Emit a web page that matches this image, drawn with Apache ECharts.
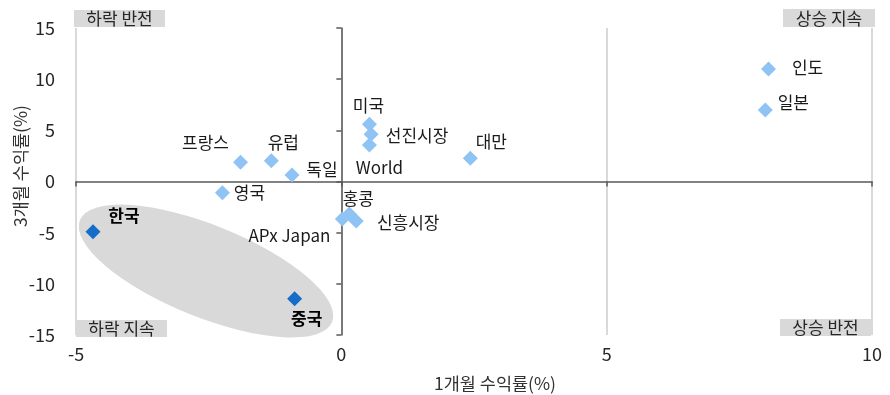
<!DOCTYPE html>
<html>
<head>
<meta charset="utf-8">
<script src="https://cdn.jsdelivr.net/npm/echarts@6/dist/echarts.min.js"></script>
<style>
  html, body { margin: 0; padding: 0; background: #fff; }
  #chart { width: 890px; height: 395px; }
</style>
</head>
<body>
<div id="chart"></div>
<script>
// Market returns: 1-month (x) vs 3-month (y), in %
const marketNames = ['인도', '일본', '미국', '선진시장', 'World', '대만', '프랑스', '유럽', '독일', '영국', '홍콩', 'APx Japan', '신흥시장'];
const oneMonth    = [8.05, 7.99, 0.53, 0.56, 0.53, 2.43, -1.90, -1.32, -0.93, -2.24, 0.15, 0.02, 0.28];
const threeMonth  = [11.0, 6.99, 5.59, 4.61, 3.57, 2.27, 1.88, 2.03, 0.64, -1.09, -3.18, -3.67, -3.86];

// Highlighted markets
const focusNames  = ['한국', '중국'];
const focusOne    = [-4.68, -0.88];
const focusThree  = [-4.90, -11.45];

// Axis ticks
const xTicks = { min: -5, max: 10, step: 5 };
const yTicks = { min: -15, max: 15, step: 5 };

// Quadrant captions
const quadrantTexts = ['하락 반전', '상승 지속', '하락 지속', '상승 반전'];

// Label placement (pixel offsets from each marker's centre)
const labelOffsets = {
  '인도': [39, -1], '일본': [28, -7], '미국': [-1, -19], '선진시장': [46, 1],
  'World': [10, 23], '대만': [21, -17], '프랑스': [-35, -20], '유럽': [12, -18],
  '독일': [30, -5], '영국': [27, 0], '홍콩': [9, -15], 'APx Japan': [-53, 16],
  '신흥시장': [52, 2], '한국': [31, -16], '중국': [12, 20]
};

// Shaded ellipse around the highlighted markets (centre in data units)
const ellipseCenter = [-2.55, -8.75];
const ellipseShape = { rx: 136, ry: 46, angleDeg: 22 };

const FONT = '"Noto Sans CJK KR", "Noto Sans", sans-serif';
const LIGHT = '#8fc3f4';
const DARK = '#156cc9';

function points(names, xs, ys) {
  return names.map((n, i) => ({
    name: n,
    value: [xs[i], ys[i]],
    label: { offset: labelOffsets[n] || [0, 0] }
  }));
}

const chart = echarts.init(document.getElementById('chart'), null, { renderer: 'canvas' });

const valueAxisBase = (t) => ({ type: 'value', min: t.min, max: t.max, interval: t.step });

function quadrantLabel(text, left, top, w, h) {
  return {
    type: 'group', x: left, y: top, z: 10,
    children: [
      { type: 'rect', shape: { x: 0, y: 0, width: w, height: h }, style: { fill: '#d9d9d9' } },
      { type: 'text', x: w / 2, y: h / 2 + 0.5,
        style: { text: text, fill: '#262626', font: '17px ' + FONT, align: 'center', verticalAlign: 'middle' } }
    ]
  };
}

chart.setOption({
  animation: false,
  grid: { left: 76, right: 18, top: 28, bottom: 60 },
  xAxis: [
    Object.assign(valueAxisBase(xTicks), {
      position: 'bottom',
      axisLine: { show: false, onZero: false },
      axisTick: { show: false },
      axisLabel: { fontSize: 18, color: '#262626', fontFamily: FONT, margin: 10 },
      splitLine: { show: true, lineStyle: { color: '#d9d9d9', width: 2 } }
    }),
    Object.assign(valueAxisBase(xTicks), {
      position: 'bottom',
      axisLine: { show: true, onZero: true, lineStyle: { color: '#595959', width: 1.5 } },
      axisTick: { show: true, length: 5, lineStyle: { color: '#595959', width: 1.5 } },
      axisLabel: { show: false },
      splitLine: { show: false }
    })
  ],
  yAxis: [
    Object.assign(valueAxisBase(yTicks), {
      position: 'left',
      axisLine: { show: false, onZero: false },
      axisTick: { show: false },
      axisLabel: { fontSize: 18, color: '#262626', fontFamily: FONT, margin: 21 },
      splitLine: { show: false }
    }),
    Object.assign(valueAxisBase(yTicks), {
      position: 'left',
      axisLine: { show: true, onZero: true, lineStyle: { color: '#595959', width: 1.5 } },
      axisTick: { show: true, length: 5, lineStyle: { color: '#595959', width: 1.5 } },
      axisLabel: { show: false },
      splitLine: { show: false }
    })
  ],
  graphic: [
    { type: 'text', x: 495, y: 383, z: 10,
      style: { text: '1개월 수익률(%)', fill: '#333', font: '17.5px ' + FONT, align: 'center', verticalAlign: 'middle' } },
    { type: 'text', x: 20, y: 166, rotation: Math.PI / 2, z: 10,
      style: { text: '3개월 수익률(%)', fill: '#333', font: '17.5px ' + FONT, align: 'center', verticalAlign: 'middle' } },
    quadrantLabel(quadrantTexts[0], 74, 10, 91, 17),
    quadrantLabel(quadrantTexts[1], 783, 9, 92, 18),
    quadrantLabel(quadrantTexts[2], 76, 320, 91, 17),
    quadrantLabel(quadrantTexts[3], 780, 319, 91, 17)
  ],
  series: [
    {
      type: 'custom',
      silent: true,
      z: 1,
      xAxisIndex: 0, yAxisIndex: 0,
      data: [ellipseCenter],
      renderItem: function (params, api) {
        const c = api.coord([api.value(0), api.value(1)]);
        return {
          type: 'circle',
          x: c[0], y: c[1],
          scaleX: ellipseShape.rx, scaleY: ellipseShape.ry,
          rotation: -ellipseShape.angleDeg * Math.PI / 180,
          shape: { cx: 0, cy: 0, r: 1 },
          style: { fill: '#d9d9d9' }
        };
      }
    },
    {
      type: 'scatter',
      z: 3,
      symbol: 'diamond',
      symbolSize: 15,
      itemStyle: { color: LIGHT, opacity: 1 },
      label: { show: true, position: 'inside', formatter: '{b}', color: '#1a1a1a',
               fontSize: 17, fontFamily: FONT, align: 'center', verticalAlign: 'middle' },
      data: points(marketNames, oneMonth, threeMonth)
    },
    {
      type: 'scatter',
      z: 4,
      symbol: 'diamond',
      symbolSize: 15,
      itemStyle: { color: DARK, opacity: 1 },
      label: { show: true, position: 'inside', formatter: '{b}', color: '#000',
               fontSize: 17, fontWeight: 'bold', fontFamily: FONT, align: 'center', verticalAlign: 'middle' },
      data: points(focusNames, focusOne, focusThree)
    }
  ]
});
</script>
</body>
</html>
